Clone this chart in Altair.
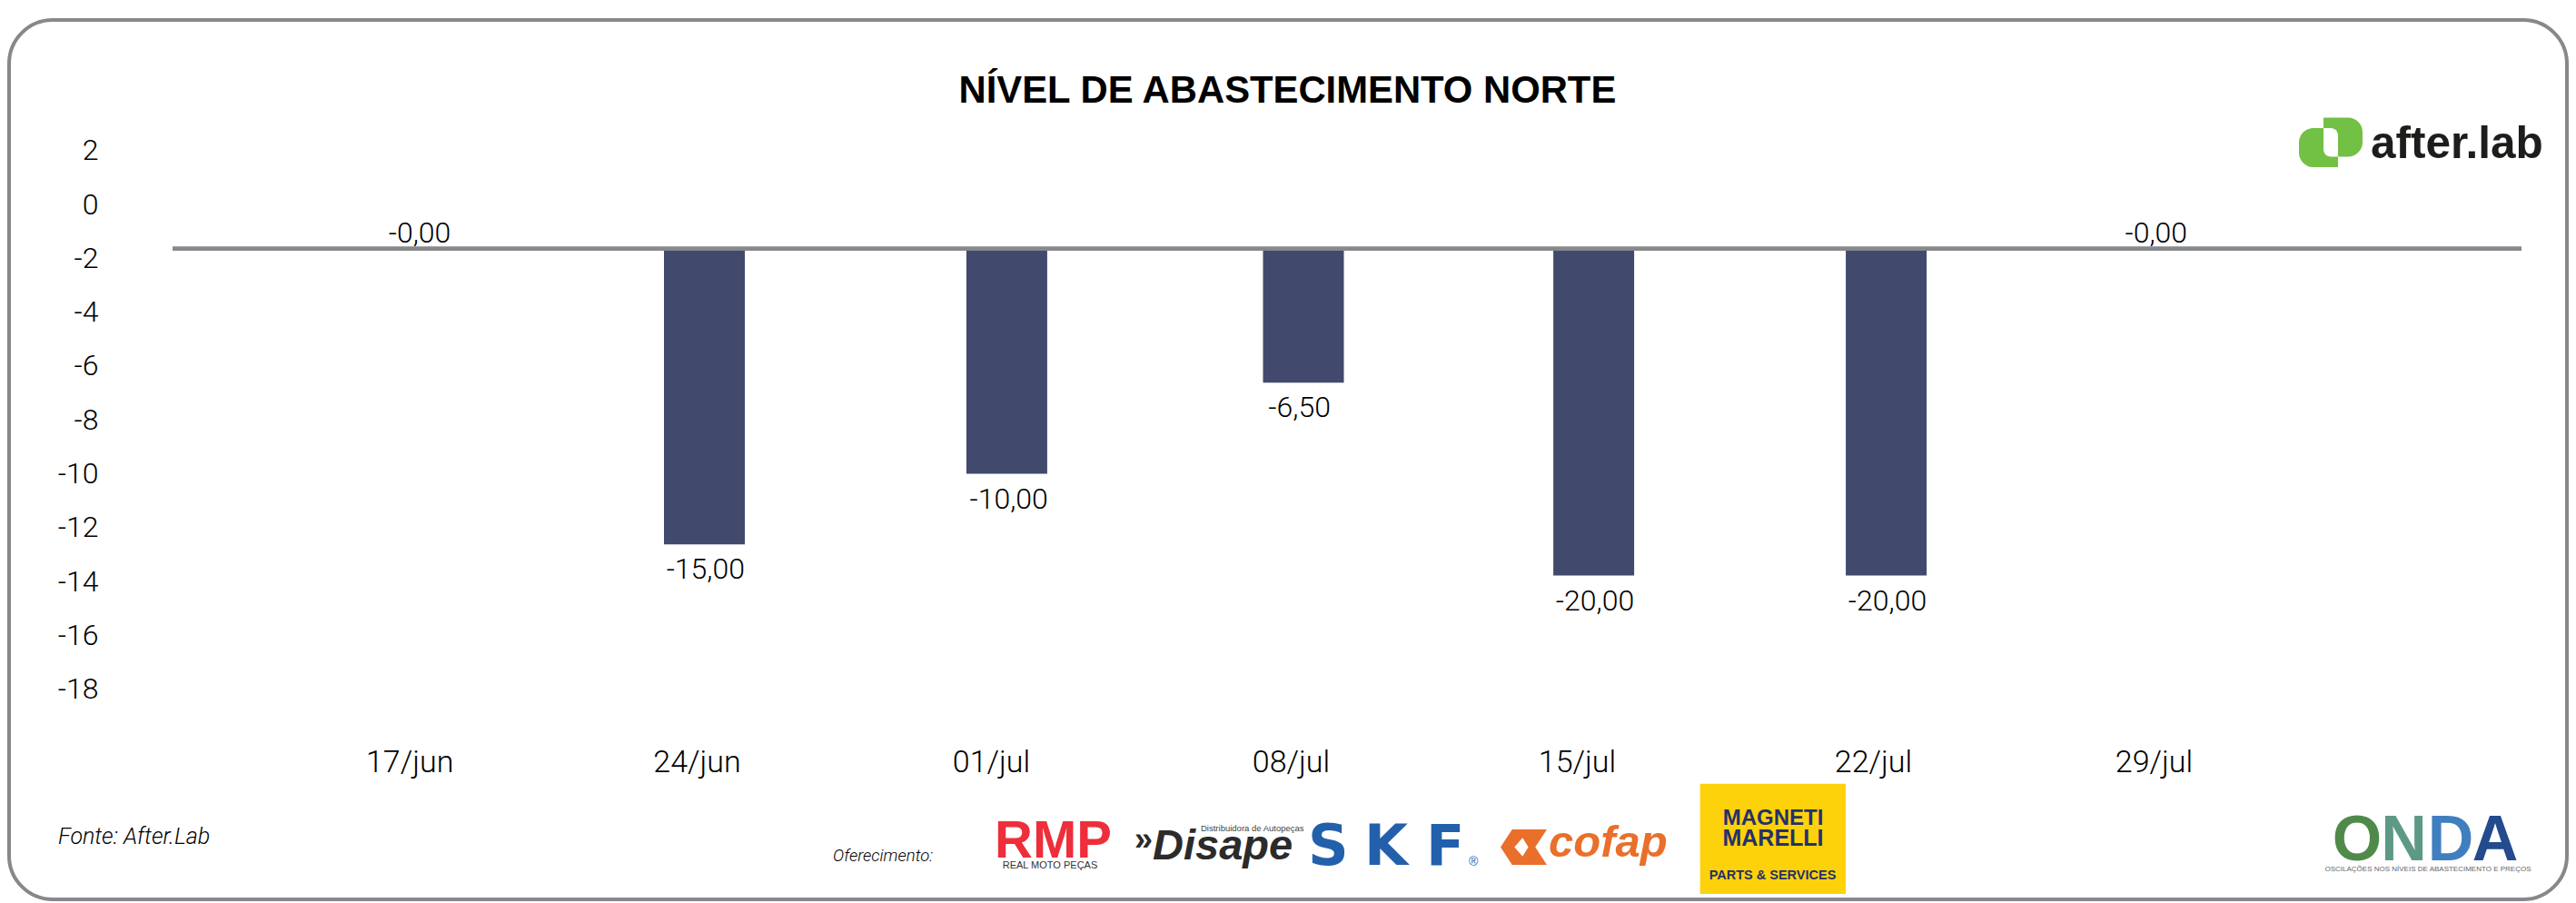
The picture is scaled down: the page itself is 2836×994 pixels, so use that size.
import altair as alt
import pandas as pd

# ---- data ----
categorias = ["17/jun", "24/jun", "01/jul", "08/jul", "15/jul", "22/jul", "29/jul"]
dias = [0, 7, 14, 21, 28, 35, 42]
rotulos = ["-0,00", "-15,00", "-10,00", "-6,50", "-20,00", "-20,00", "-0,00"]
linha_base = -1.64
barras = [-1.64, -12.62, -10.0, -6.62, -13.78, -13.78, -1.64]
y_ticks = [2, 0, -2, -4, -6, -8, -10, -12, -14, -16, -18]

df = pd.DataFrame({"cat": categorias, "dia": dias, "rotulo": rotulos,
                   "valor": barras, "base": [linha_base] * 7})

W, H = 2820, 986
OFF = 8
FONT = "Roboto"
BAR = "#414a6d"
GRAY = "#87888c"

def X(v):
    return v - OFF

Y_SCALE = alt.Scale(domain=[-18, 2], range=[750.7, 157.7], nice=False, zero=False)
BAR_X = alt.Scale(domain=dias[1:6], range=[X(v) for v in [775.5, 1108.4, 1435, 1754.6, 2076.6]], nice=False, zero=False, padding=0)
LAB_X = alt.Scale(domain=dias, range=[X(v) for v in [462, 776.8, 1110.7, 1430.6, 1756, 2078, 2373.8]], nice=False, zero=False)
TICK_X = alt.Scale(domain=dias, range=[X(v) for v in [450.7, 767, 1091, 1421, 1736, 2062, 2371]], nice=False, zero=False)

Y_AXIS = alt.Axis(orient="left", offset=-100, values=y_ticks, domain=False, ticks=False, grid=False, title=None,
                  labelFont=FONT, labelFontSize=32, labelFontWeight=300, labelColor="#000000", zindex=1,
                  labelPadding=0, labelFlush=False, labelOverlap=False, labelBound=False,
                  labelExpr="'' + datum.value")
Y_ENC = alt.Y("valor:Q", scale=Y_SCALE, axis=Y_AXIS)

one = alt.Data(values=[{"a": 1}])

def txt(s, x, y, size, color="#000000", weight="normal", style="normal", font="Liberation Sans",
        align="left", baseline="alphabetic", angle=0):
    return alt.Chart(one).mark_text(
        text=s, font=font, fontSize=size, fontWeight=weight, fontStyle=style, color=color,
        align=align, baseline=baseline, angle=angle
    ).encode(x=alt.value(X(x)), y=alt.value(X(y)))

def box(x0, y0, x1, y1, color, **kw):
    return alt.Chart(one).mark_rect(color=color, **kw).encode(
        x=alt.value(X(x0)), x2=alt.value(X(x1)), y=alt.value(X(y0)), y2=alt.value(X(y1)))

# frame
frame = alt.Chart(one).mark_rect(filled=False, stroke=GRAY, strokeWidth=4, cornerRadius=48).encode(
    x=alt.value(2), x2=alt.value(W - 2), y=alt.value(X(22)), y2=alt.value(X(990)))

# bars
neg = df[df["valor"] < linha_base]
bars = alt.Chart(neg).mark_bar(width=89, color=BAR).encode(
    x=alt.X("dia:Q", scale=BAR_X, axis=None),
    y=Y_ENC,
    y2=alt.Y2("base:Q"),
)

# baseline rule
rule = alt.Chart(one).mark_rule(color=GRAY, strokeWidth=4.6).encode(
    x=alt.value(X(190)), x2=alt.value(X(2776)), y=alt.datum(linha_base, scale=Y_SCALE, axis=Y_AXIS))

# value labels
lab_common = dict(font=FONT, fontSize=32, fontWeight=300, color="#000000", baseline="middle")
lab_neg = alt.Chart(neg).mark_text(dy=28, **lab_common).encode(
    x=alt.X("dia:Q", scale=LAB_X, axis=None),
    y=Y_ENC,
    text="rotulo:N",
)
lab_zero = alt.Chart(df[df["valor"] >= linha_base]).mark_text(dy=-17, **lab_common).encode(
    x=alt.X("dia:Q", scale=LAB_X, axis=None),
    y=Y_ENC,
    text="rotulo:N",
)

# category axis
label_expr = "[" + ",".join(f"'{c}'" for c in categorias) + "][indexof([" + ",".join(map(str, dias)) + "], datum.value)]"
cat_axis = alt.Chart(df).mark_point(opacity=0).encode(
    x=alt.X("dia:Q", scale=TICK_X, title=None,
            axis=alt.Axis(orient="bottom", offset=-(H - X(839)), values=dias, labelExpr=label_expr, zindex=1,
                          domain=False, ticks=False, grid=False, labelFont=FONT, labelFontSize=34,
                          labelFontWeight=300, labelColor="#000000", labelPadding=0, labelBaseline="middle",
                          labelFlush=False, labelOverlap=False, labelBound=False)),
    y=Y_ENC,
)

# notes
fonte = txt("Fonte: After.Lab", 64, 929, 25, style="italic", font=FONT, weight=300)
ofer = txt("Oferecimento:", 917, 948, 18.5, style="italic", font=FONT, weight=300)

# after.lab logo
GREEN = "#72c044"
after = [
    box(2531, 141, 2574, 184, GREEN, cornerRadiusTopLeft=16, cornerRadiusBottomLeft=16),
    box(2558, 129.5, 2601, 172.5, GREEN, cornerRadiusTopRight=16, cornerRadiusBottomRight=16),
    box(2558, 141, 2574, 172.5, "#ffffff", cornerRadiusTopRight=12, cornerRadiusBottomLeft=8),
    txt("after.lab", 2610, 174, 49.5, color="#1d1d1b", weight="bold"),
]

# sponsors
RED = "#ee2e3a"
rmp = [
    txt("RMP", 1095, 944, 58, color=RED, weight="bold"),
    txt("REAL MOTO PEÇAS", 1156, 956, 11, color="#333333", align="center"),
]
DARK = "#2b2b2b"
disape = [
    txt("»", 1249, 936, 36, color=DARK, weight="bold"),
    txt("Disape", 1269, 946, 47, color=DARK, weight="bold", style="italic"),
    txt("Distribuidora de Autopeças", 1322, 915, 9.5, color="#444444"),
]
SKFB = "#2360ac"
SKFF = "DejaVu Sans"
skf = [
    txt("S", 1440, 952, 62, color=SKFB, weight="bold", font=SKFF),
    txt("K", 1502, 952, 62, color=SKFB, weight="bold", font=SKFF),
    txt("F", 1570, 952, 62, color=SKFB, weight="bold", font=SKFF),
    txt("®", 1617, 953, 14, color=SKFB),
]
ORANGE = "#e96f2b"
emblem = "M -1,0 L -0.5,-0.76 L 1,-0.76 L 0.5,0 L 1,0.76 L -0.5,0.76 Z M -0.4,0 L -0.05,0.4 L 0.2,0 L -0.05,-0.4 Z"
cofap = [
    alt.Chart(one).mark_point(shape=emblem, filled=True, fill=ORANGE, opacity=1, strokeWidth=0, size=2600).encode(
        x=alt.value(X(1677.5)), y=alt.value(X(932.5))),
    txt("cofap", 1705, 943, 49, color=ORANGE, weight="bold", style="italic"),
]
NAVY = "#26306b"
marelli = [
    box(1871.7, 862.7, 2032, 984, "#fdd20a"),
    txt("MAGNETI", 1952, 908, 24, color=NAVY, weight="bold", align="center"),
    txt("MARELLI", 1952, 931, 25, color=NAVY, weight="bold", align="center"),
    txt("PARTS & SERVICES", 1951.5, 968, 14.5, color=NAVY, weight="bold", align="center"),
]
onda = [
    txt("O", 2595, 947, 70, color="#4f8a4b", weight="bold", align="center"),
    txt("N", 2646.5, 947, 70, color="#5d9a86", weight="bold", align="center"),
    txt("D", 2698, 947, 70, color="#3f7fbf", weight="bold", align="center"),
    txt("A", 2747, 947, 70, color="#234b8e", weight="bold", align="center"),
    txt("OSCILAÇÕES NOS NÍVEIS DE ABASTECIMENTO E PREÇOS", 2673, 959, 8, color="#666666", align="center"),
]

layers = [frame, bars, rule, lab_neg, lab_zero, cat_axis, fonte, ofer] + after + rmp + disape + skf + cofap + marelli + onda

chart = alt.layer(*layers).resolve_scale(x="independent").properties(
    width=W, height=H, padding=0, autosize=alt.AutoSizeParams(type="none"),
    title=alt.TitleParams("NÍVEL DE ABASTECIMENTO NORTE", font="Liberation Sans", fontSize=41.8, fontWeight="bold",
                          color="#000000", anchor="middle", baseline="alphabetic", offset=-(X(112.4) + 42), dx=-0.6),
).configure_view(stroke=None)

chart.save("out.html", embed_options={"renderer": "svg", "actions": False})
